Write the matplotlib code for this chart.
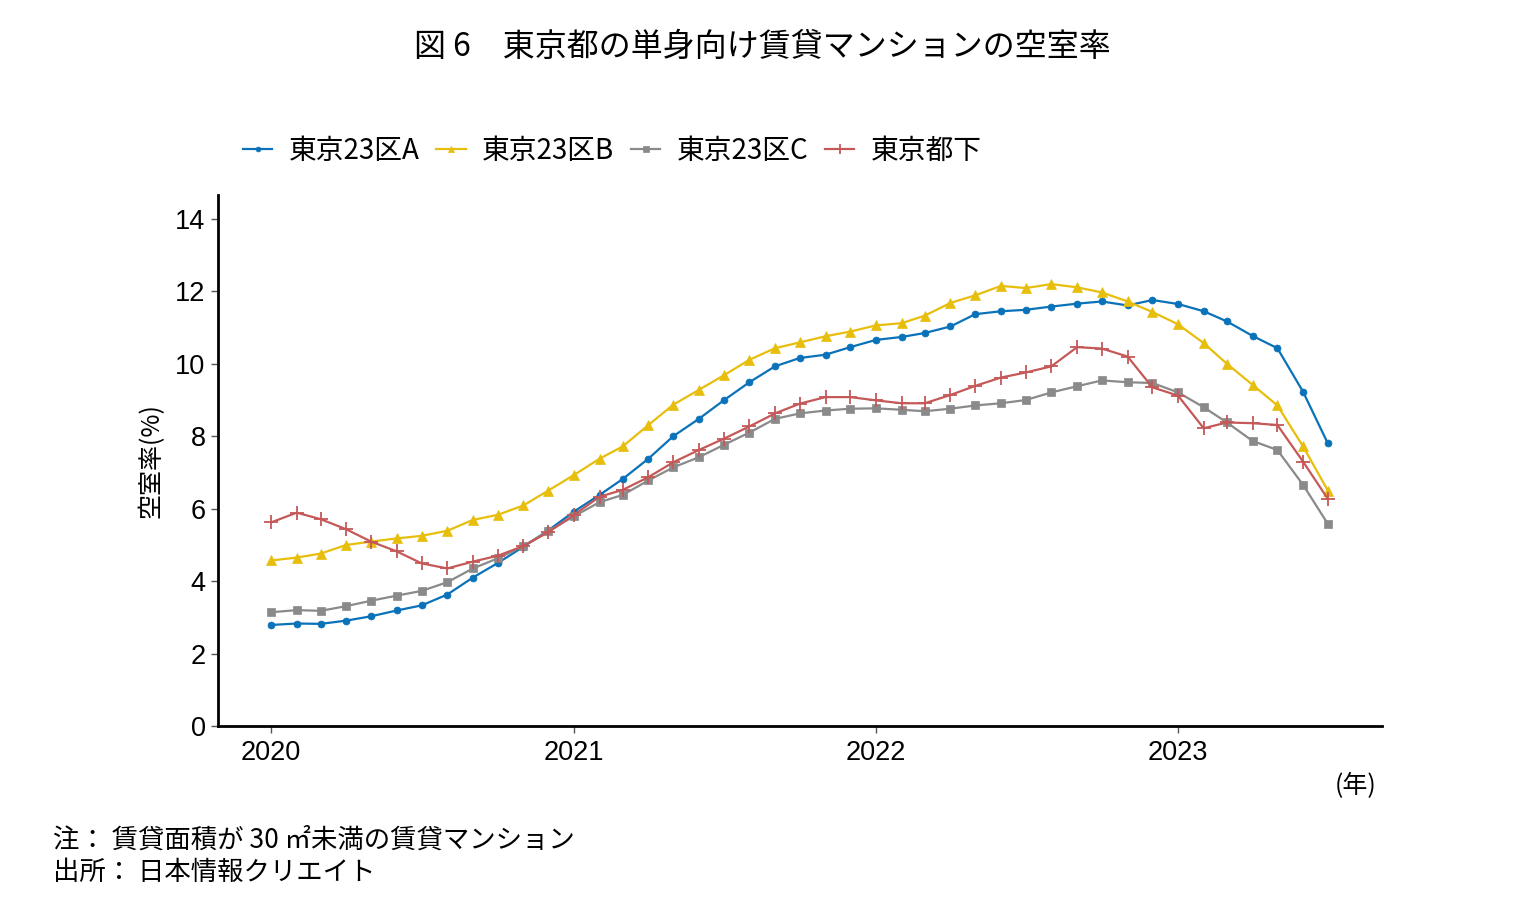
import matplotlib
matplotlib.use("Agg")
import matplotlib.pyplot as plt
import matplotlib.dates as mdates
import pandas as pd
import numpy as np

plt.rcParams['font.family'] = ['Noto Sans CJK JP', 'DejaVu Sans']

months = pd.date_range('2020-01-01', periods=43, freq='MS')

series_a = [2.79, 2.83, 2.82, 2.91, 3.03, 3.19, 3.33, 3.63, 4.10, 4.50, 4.95, 5.40,
            5.92, 6.38, 6.82, 7.38, 8.00, 8.48, 8.99, 9.49, 9.93, 10.16, 10.25, 10.46,
            10.66, 10.74, 10.85, 11.03, 11.37, 11.45, 11.49, 11.58, 11.66, 11.72, 11.61, 11.76,
            11.65, 11.45, 11.17, 10.77, 10.43, 9.23, 7.80]
series_b = [4.57, 4.65, 4.76, 5.00, 5.09, 5.18, 5.25, 5.39, 5.69, 5.83, 6.09, 6.50,
            6.93, 7.38, 7.72, 8.31, 8.87, 9.28, 9.68, 10.11, 10.43, 10.59, 10.76, 10.89,
            11.06, 11.12, 11.33, 11.68, 11.89, 12.15, 12.09, 12.20, 12.11, 11.97, 11.72, 11.43,
            11.09, 10.57, 10.00, 9.42, 8.85, 7.72, 6.50]
series_c = [3.14, 3.20, 3.18, 3.31, 3.46, 3.60, 3.73, 3.97, 4.35, 4.63, 4.97, 5.38,
            5.79, 6.18, 6.38, 6.78, 7.14, 7.42, 7.76, 8.10, 8.48, 8.63, 8.71, 8.76,
            8.77, 8.73, 8.69, 8.76, 8.85, 8.91, 9.00, 9.21, 9.38, 9.54, 9.49, 9.47,
            9.21, 8.80, 8.38, 7.87, 7.62, 6.66, 5.58]
series_d = [5.62, 5.89, 5.71, 5.43, 5.09, 4.82, 4.49, 4.35, 4.54, 4.70, 4.97, 5.35,
            5.83, 6.33, 6.52, 6.87, 7.28, 7.62, 7.93, 8.27, 8.63, 8.90, 9.08, 9.08,
            8.99, 8.91, 8.91, 9.14, 9.39, 9.62, 9.76, 9.93, 10.46, 10.42, 10.20, 9.35,
            9.12, 8.22, 8.38, 8.36, 8.31, 7.30, 6.27]

names = ['東京23区A', '東京23区B', '東京23区C', '東京都下']
colors = ['#0A72B8', '#E8BE0C', '#8A8A8A', '#C55858']
markers = ['o', '^', 's', '+']
msizes = [5, 6.5, 5.5, 10]

fig = plt.figure(figsize=(15.25, 9.21), dpi=100)
ax = fig.add_axes([0.143, 0.2117, 0.763, 0.5766])

for vals, name, c, m, ms in zip([series_a, series_b, series_c, series_d], names, colors, markers, msizes):
    ax.plot(months, vals, color=c, marker=m, markersize=ms, linewidth=1.6,
            markeredgewidth=1.3 if m == '+' else 0.5, label=name)

ax.set_ylim(0, 14.66)
ax.set_yticks([0, 2, 4, 6, 8, 10, 12, 14])
ax.set_xlim(pd.Timestamp('2019-10-29'), pd.Timestamp('2023-09-04'))
ax.set_xticks([pd.Timestamp(f'{y}-01-01') for y in [2020, 2021, 2022, 2023]])
ax.xaxis.set_major_formatter(mdates.DateFormatter('%Y'))

for s in ['top', 'right']:
    ax.spines[s].set_visible(False)
for s in ['left', 'bottom']:
    ax.spines[s].set_linewidth(2)
ax.tick_params(axis='both', labelsize=19.5, length=5, width=1, color='#555555', direction='out',
               labelfontfamily='Liberation Sans')
ax.tick_params(axis='y', pad=4)
ax.tick_params(axis='x', pad=5)

ax.set_ylabel('空室率(%)', fontsize=18, labelpad=8)

fig.text(0.889, 0.147, '(年)', fontsize=18, ha='center', va='center')

leg = fig.legend(loc='center left', bbox_to_anchor=(0.143, 0.836), ncol=4, frameon=False,
                 fontsize=20, handlelength=1.05, handletextpad=0.6, columnspacing=0.6,
                 markerscale=0.7)

fig.text(0.5, 0.949, '図 6　東京都の単身向け賃貸マンションの空室率', fontsize=23,
         ha='center', va='center')
fig.text(0.035, 0.088, '注： 賃貸面積が 30 ㎡未満の賃貸マンション', fontsize=19, ha='left', va='center')
fig.text(0.035, 0.053, '出所： 日本情報クリエイト', fontsize=19, ha='left', va='center')

fig.savefig('out.png', dpi=100)
